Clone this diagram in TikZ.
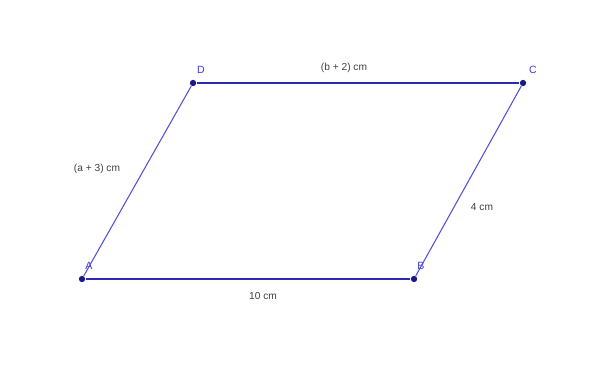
\documentclass[tikz,border=0pt]{standalone}
\usepackage{fontspec}
\setmainfont{Liberation Sans}
\usepackage{xcolor}
\usetikzlibrary{positioning}
\definecolor{SideBlue}{HTML}{5050D8}
\definecolor{BaseBlue}{HTML}{2A2AB4}
\definecolor{PtNavy}{HTML}{1A1A80}
\definecolor{LblBlue}{HTML}{3C3CDC}
\definecolor{TxtGray}{HTML}{404040}

\begin{document}
\begin{tikzpicture}[
  x=0.02cm,y=-0.02cm,
  pt/.style={circle,fill=PtNavy,inner sep=0pt,minimum size=3.6pt},
  vlabel/.style={text=LblBlue,font=\fontsize{6}{7}\selectfont,inner sep=1pt},
  side/.style={color=SideBlue,line width=0.6pt},
  base/.style={color=BaseBlue,line width=0.8pt},
  measure/.style={text=TxtGray,font=\fontsize{5.8}{7}\selectfont,inner sep=1pt}
]
\useasboundingbox[fill=white] (0,0) rectangle (590,385);
% vertices
\node[pt] (A) at (82,279) {};
\node[pt] (B) at (414,279) {};
\node[pt] (C) at (523,83) {};
\node[pt] (D) at (193,83) {};
\node[vlabel] at (89,266) {A};
\node[vlabel] at (421,266) {B};
\node[vlabel] at (533,70) {C};
\node[vlabel] at (201,70) {D};
% sides
\draw[base] (A) -- (B);
\draw[base] (D) -- (C);
\draw[side] (A) -- (D);
\draw[side] (B) -- (C);
% lengths
\node[measure] (ab) at (263,296) {10 cm};
\node[measure] (dc) at (344,68) {(b + 2) cm};
\node[measure] (ad) at (97,169) {(a + 3) cm};
\node[measure] (bc) at (482,207) {4 cm};
\end{tikzpicture}
\end{document}
